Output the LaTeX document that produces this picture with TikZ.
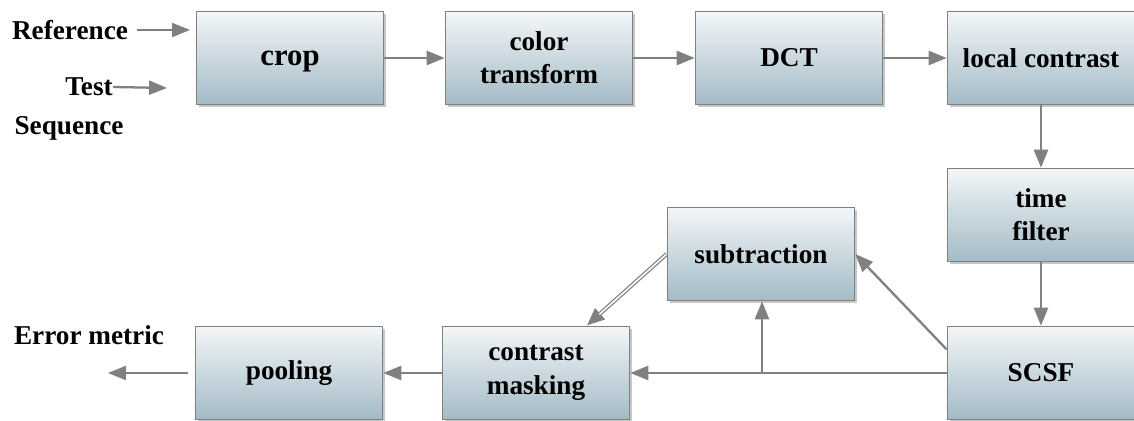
\documentclass[tikz,border=0pt]{standalone}
\usepackage{fontspec}
\setmainfont{Liberation Serif}
\usetikzlibrary{arrows.meta,shadows}
\definecolor{boxtop}{HTML}{F3F6F8}
\definecolor{boxbot}{HTML}{A3BBC6}
\definecolor{linegray}{HTML}{808080}
\begin{document}
\begin{tikzpicture}[x=0.02cm,y=-0.02cm]
 \tikzset{directed/.style={draw=linegray, line width=1.3pt, -{Triangle[length=3.6mm,width=2.8mm]}}}
 \tikzset{block/.style={draw=linegray, line width=0.9pt, top color=boxtop, bottom color=boxbot,
   minimum width=3.74cm, minimum height=1.86cm, align=center, font=\fontsize{15.5}{19}\selectfont\bfseries,
   drop shadow={shadow xshift=1.2pt, shadow yshift=-1.2pt, opacity=0.45}}}
 \tikzset{txt/.style={inner sep=0pt, font=\fontsize{15.5}{19}\selectfont\bfseries}}
  \useasboundingbox (0,0) rectangle (1134,421);
  \node[block, text depth=0pt, font=\fontsize{17.5}{21}\selectfont\bfseries] (crop) at (290,58) {crop};
  \node[block] (color) at (539,58) {color\\transform};
  \node[block] (dct) at (789,58) {DCT};
  \node[block] (local) at (1041,58) {local contrast};
  \node[block] (time) at (1041,215) {time\\filter};
  \node[block] (scsf) at (1041,373) {SCSF};
  \node[block] (sub) at (761,254) {subtraction};
  \node[block] (mask) at (536,373) {contrast\\masking};
  \node[block] (pool) at (289,373) {pooling};
  \node[txt] (ref) at (70,30) {Reference};
  \node[txt] (test) at (89,87) {Test};
  \node[txt] (seq) at (69,128) {Sequence};
  \node[txt] (err) at (89,335) {Error metric};
  \coordinate (refend) at (190,30);
  \coordinate (testend) at (167,88);
  \coordinate (errend) at (108,373);
  \coordinate (br) at (762,373);
  \draw[directed] ([xshift=5pt]ref.east) -- (refend);
  \draw[directed] (test.east) -- (testend);
  \draw[directed] (crop) -- (color);
  \draw[directed] (color) -- (dct);
  \draw[directed] (dct) -- (local);
  \draw[directed] (local) -- (time);
  \draw[directed] (time) -- (scsf);
  \draw[directed] (scsf) -- (mask);
  \draw[directed] (br) -- (br |- sub.south);
  \draw[directed] (scsf.166) -- (sub.east);
  \draw[directed, line width=2.3pt] (sub.west) -- (mask.43);
  \draw[white, line width=0.9pt, shorten >=3.4mm] (sub.west) -- (mask.43);
  \draw[directed] (mask) -- (pool);
  \draw[directed, shorten <=4pt] (pool) -- (errend);
\end{tikzpicture}
\end{document}
